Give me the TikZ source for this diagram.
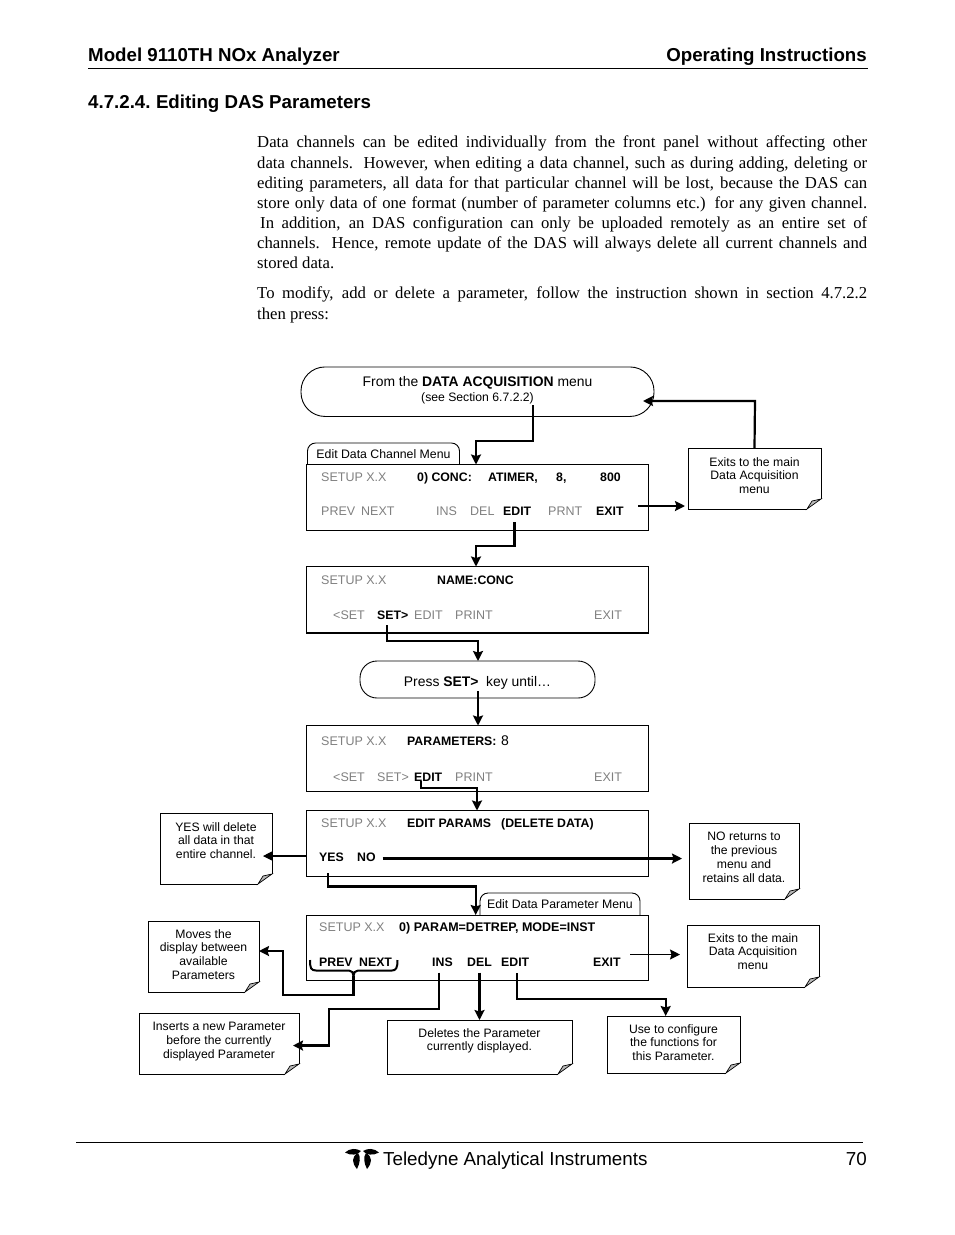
\documentclass[tikz,border=0pt]{standalone}
\usepackage{fontspec}
\setmainfont{Liberation Serif}
\setsansfont{Liberation Sans}
\usetikzlibrary{arrows.meta}
\definecolor{keygray}{gray}{0.5}
\definecolor{foldgray}{gray}{0.72}
\tikzset{
   heading/.style={inner sep=0pt,font=\sffamily\bfseries\fontsize{18.7}{22}\selectfont},
   para/.style={inner sep=0pt,anchor=north west,text width=610pt,align=justify,font=\fontsize{16.7}{20.1}\selectfont},
   screen/.style={draw,fill=white,line width=0.9pt,anchor=north west,inner sep=0pt,outer sep=0pt,minimum width=342pt},
   terminal/.style={draw,line width=0.9pt,rounded corners=24pt,inner sep=0pt,outer sep=0pt,align=center,font=\sffamily\fontsize{13.9}{16}\selectfont},
   tabtext/.style={inner sep=0pt,outer sep=0pt,minimum height=22pt,font=\sffamily\fontsize{12.3}{14}\selectfont},
   offkey/.style={inner sep=0pt,anchor=base west,text=keygray,font=\sffamily\fontsize{12.5}{14}\selectfont},
   onkey/.style={inner sep=0pt,anchor=base west,font=\sffamily\bfseries\fontsize{12.3}{14}\selectfont},
   notetext/.style={inner sep=0pt,anchor=north,align=center,font=\sffamily\fontsize{12.2}{13.8}\selectfont},
   flow/.style={line width=2.2pt,-{Stealth[length=10pt,width=10pt,inset=1.5pt]}},
   thinflow/.style={line width=1.1pt,-{Stealth[length=10pt,width=10pt,inset=1.5pt]}},
}
% note with a folded corner: name, left, top, right, bottom, text top, text
\newcommand{\notebox}[7]{
   \node[inner sep=0pt,outer sep=0pt,anchor=north west,minimum width=#4pt-#2pt,minimum height=#5pt-#3pt] (#1) at (#2,#3) {};
   \filldraw[foldgray,draw=black,line width=0.7pt] (#4,#5-10) -- (#4-9,#5-8) -- (#4-14,#5) -- cycle;
   \draw[line width=1pt] (#4-14,#5) -- (#2,#5) -- (#2,#3) -- (#4,#3) -- (#4,#5-10);
   \node[notetext] (#1text) at ({(#2+#4)/2},#6+3) {#7};
}
\begin{document}
\begin{tikzpicture}[x=1pt,y=-1pt]
   \useasboundingbox (0,0) rectangle (954,1235);
   % page header
   \node[heading,anchor=base west] (title) at (88,61) {Model 9110TH NOx Analyzer};
   \node[heading,anchor=base east] (chapter) at (867,61) {Operating Instructions};
   \draw[line width=0.9pt] (88,68.5) -- (868,68.5);
   \node[heading,anchor=base west] (section) at (88,108) {4.7.2.4.\hspace{-1.5pt} Editing DAS Parameters};
   \node[para] (bodyone) at (257,136) {Data channels can be edited individually from the front panel without affecting other\linebreak
      data channels.\ \ However, when editing a data channel, such as during adding, deleting or\linebreak
      editing parameters, all data for that particular channel will be lost, because the DAS can\linebreak
      store only data of one format (number of parameter columns etc.) for any given channel.\linebreak
      \hspace*{3pt}In addition, an DAS configuration can only be uploaded remotely as an entire set of\linebreak
      channels.\ \ Hence, remote update of the DAS will always delete all current channels and\linebreak
      stored data.};
   \node[para] (bodytwo) at (257,287) {To modify, add or delete a parameter, follow the instruction shown in section 4.7.2.2\linebreak
      then press:};
   % tabs go under the screens
   \node[tabtext,minimum width=152pt,anchor=north west] (chantab) at (307.5,443) {Edit Data Channel Menu};
   \draw[line width=0.9pt,rounded corners=8pt] (chantab.south west) -- (chantab.north west) -- (chantab.north east) -- (chantab.south east);
   \node[tabtext,minimum width=160pt,anchor=north west] (paramtab) at (480,893) {Edit Data Parameter Menu};
   \draw[line width=0.9pt,rounded corners=8pt] (paramtab.south west) -- (paramtab.north west) -- (paramtab.north east) -- (paramtab.south east);
   % start and press ovals
   \node[terminal,minimum width=353pt,minimum height=49.5pt,text depth=6pt] (startmenu) at (477.5,391.7) {From the \textbf{DATA ACQUISITION} menu\\[-1pt]{\fontsize{12.2}{13}\selectfont(see Section 6.7.2.2)}};
   \node[terminal,rounded corners=17pt,minimum width=235pt,minimum height=37pt,text height=13.5pt,text depth=0pt] (pressset) at (477.5,679.5) {Press \textbf{SET>} \ key until\ldots};
   % screens
   \node[screen,minimum height=65.5pt] (chanscreen) at (306.5,464.5) {};
   \node[screen,minimum height=66.5pt] (namescreen) at (306.5,566.5) {};
   \draw[line width=1.6pt] (namescreen.south west) -- (namescreen.south east);
   \node[screen,minimum height=66pt] (countscreen) at (306.5,725.5) {};
   \node[screen,minimum height=66pt] (deletescreen) at (306.5,810.5) {};
   \node[screen,minimum height=65.5pt] (paramscreen) at (306.5,915) {};
   % dimmed keys
   \foreach \name/\x/\y/\txt in {chansetup/321/481/SETUP X.X, chanprev/321/515.5/PREV, channext/361/515.5/NEXT, chanins/436/515.5/INS, chandel/470/515.5/DEL, chanprnt/548/515.5/PRNT,
      namesetup/321/584/SETUP X.X, nameback/333/619/<SET, nameedit/414/619/EDIT, nameprint/455/619/PRINT, nameexit/594/619/EXIT,
      countsetup/321/745/SETUP X.X, countback/333/781/<SET, countset/377/781/SET>, countprint/455/781/PRINT, countexit/594/781/EXIT,
      deletesetup/321/827/SETUP X.X, paramsetup/319/931/SETUP X.X} {
      \node[offkey] (\name) at (\x,\y) {\txt};
   }
   % lit keys
   \foreach \name/\x/\y/\txt in {chanline/417/481/0) CONC:, chantimer/488/481/{ATIMER,}, chaneight/556/481/{8,}, chanvalue/600/481/800, chanedit/503/515.5/EDIT, chanexit/596/515.5/EXIT,
      nameline/437/584/NAME:CONC, nameset/377/619/SET>,
      countline/407/745/PARAMETERS:, countedit/414/781/EDIT,
      deleteline/407/827/EDIT PARAMS, deletewarn/501/827/(DELETE DATA), deleteyes/319/861/YES, deleteno/357/861/NO,
      paramprev/319/966/PREV, paramnext/359/966/NEXT, paramins/432/966/INS, paramdel/467/966/DEL, paramedit/501/966/EDIT, paramexit/593/966/EXIT} {
      \node[onkey] (\name) at (\x,\y) {\txt};
   }
   \node[onkey,font=\sffamily\bfseries\fontsize{12.5}{14}\selectfont] (paramline) at (399,931) {0) PARAM=DETREP, MODE=INST};
   \node[onkey,font=\sffamily\fontsize{14}{16}\selectfont] (countvalue) at (501,745) {8};
   % notes
   \notebox{exitnote}{688}{448}{821}{509}{454}{Exits to the main\\Data Acquisition\\menu}
   \notebox{yesnote}{160}{813}{272}{884}{819}{YES will delete\\all data in that\\entire channel.}
   \notebox{nonote}{689}{823}{799}{899}{829}{NO returns to\\the previous\\menu and\\retains all data.}
   \notebox{movenote}{148}{921}{259}{992}{926}{Moves the\\display between\\available\\Parameters}
   \notebox{backnote}{687}{925}{819}{987}{930}{Exits to the main\\Data Acquisition\\menu}
   \notebox{insnote}{139}{1013}{299}{1074}{1019}{Inserts a new Parameter\\before the currently\\displayed Parameter}
   \notebox{delnote}{387}{1020}{572}{1074}{1025}{Deletes the Parameter\\currently displayed.}
   \notebox{editnote}{607}{1016}{740}{1073}{1021}{Use to configure\\the functions for\\this Parameter.}
   % free ends of the connectors
   \coordinate (startfoot) at (533,405);
   \coordinate (starttip) at (643,401);
   \coordinate (chanexitend) at (638,506);
   \coordinate (chanbend) at (514.5,546);
   \coordinate (setfoot) at (387,625);
   \coordinate (countbend) at (421,781);
   \coordinate (pressfoot) at (478,691);
   \coordinate (nofoot) at (382.5,858.5);
   \coordinate (yesfoot) at (328,873);
   \coordinate (bracetip) at (353.5,976);
   \coordinate (thinstart) at (630,954.5);
   % connectors
   \draw[flow] (startfoot) -- (533,441) -- (476,441) -- (chanscreen.north -| 476,0);
   \draw[flow] (exitnote.north) -- (755,401) -- (starttip);
   \draw[flow] (chanexitend) -- ([xshift=-3pt]exitnote.west |- chanexitend);
   \draw[flow] (514.5,522) -- (chanbend) -- (476,546) -- (namescreen.north -| 476,0);
   \draw[flow] (setfoot) -- (387,641) -- (478,641) -- (pressset.north -| 478,0);
   \draw[flow] (pressfoot) -- (countscreen.north -| 478,0);
   \draw[flow] (countbend) -- (421,788) -- (477,788) -- (deletescreen.north -| 477,0);
   \draw[thinflow] (deletescreen.west |- 0,856) -- ([xshift=-9pt]yesnote.east |- 0,856);
   \draw[flow] (nofoot) -- (682,858.5);
   \draw[flow] (yesfoot) -- (328,886.5) -- (475.7,886.5) -- (paramscreen.north -| 475.7,0);
   \draw[thinflow] (thinstart) -- (680,954.5);
   \draw[line width=2pt] (310,960) .. controls (310,968) and (311,970.5) .. (316,970.5) -- (349,970.5) .. controls (352,970.5) and (353.5,973) .. (353.5,976) .. controls (353.5,973) and (355,970.5) .. (358,970.5) -- (392,970.5) .. controls (396,970.5) and (397.5,968) .. (397.5,960);
   \draw[flow] (bracetip) -- (353.5,995) -- (283,995) -- (283,951) -- (movenote.east |- 0,951);
   \draw[flow] (439,972.5) -- (439,1009) -- (329,1009) -- (329,1045.5) -- (293,1045.5);
   \draw[flow] (479.5,972.5) -- (delnote.north -| 479.5,0);
   \draw[flow] (516.7,973) -- (516.7,999) -- (665.7,999) -- (editnote.north -| 665.7,0);
   % page footer
   \draw[line width=0.9pt] (76,1142.5) -- (863,1142.5);
   \fill (345,1152.5) .. controls (350,1148) and (356,1148) .. (361,1151) .. controls (358,1155) and (351,1156) .. cycle;
   \fill (379,1152.5) .. controls (374,1148) and (368,1148) .. (363,1151) .. controls (366,1155) and (373,1156) .. cycle;
   \fill (358,1153) .. controls (351,1157) and (352,1163) .. (357,1169) .. controls (360,1163) and (361,1157) .. cycle;
   \fill (366,1153) .. controls (373,1157) and (372,1163) .. (367,1169) .. controls (364,1163) and (363,1157) .. cycle;
   \node[inner sep=0pt,anchor=base west,font=\sffamily\fontsize{18.8}{22}\selectfont] (company) at (383,1165) {Teledyne Analytical Instruments};
   \node[inner sep=0pt,anchor=base east,font=\sffamily\fontsize{18.8}{22}\selectfont] (pagenum) at (867,1165) {70};
\end{tikzpicture}
\end{document}
